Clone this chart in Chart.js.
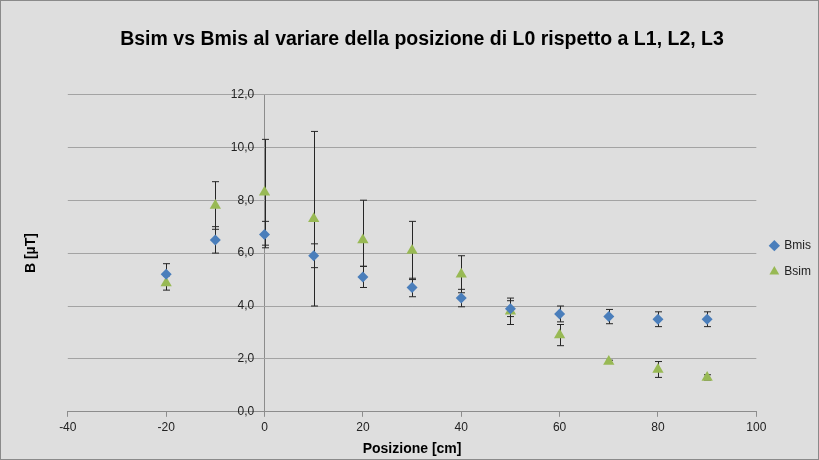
<!DOCTYPE html>
<html>
<head>
<meta charset="utf-8">
<script src="https://cdn.jsdelivr.net/npm/chart.js@4"></script>
<style>
  html, body { margin: 0; padding: 0; background: #dedede; }
  #wrap { width: 817px; height: 458px; border: 1px solid #8a8a8a; background: #dedede; }
</style>
</head>
<body>
<div id="wrap"><canvas id="myChart" width="817" height="458"></canvas></div>
<script>
// Positions (cm)
const positions = [-20, -10, 0, 10, 20, 30, 40, 50, 60, 70, 80, 90];

// Measured field (uT) and its error
const bmis = [5.2, 6.5, 6.7, 5.9, 5.1, 4.7, 4.3, 3.9, 3.7, 3.6, 3.5, 3.5];
const bmisErr = [0.4, 0.5, 0.5, 0.45, 0.4, 0.35, 0.33, 0.3, 0.3, 0.27, 0.28, 0.28];

// Simulated field (uT) and its error (plus / minus)
const bsim = [4.87, 7.8, 8.3, 7.3, 6.5, 6.1, 5.2, 3.8, 2.9, 1.9, 1.6, 1.3];
const bsimErrPlus = [0.27, 0.9, 2.0, 3.3, 1.5, 1.1, 0.7, 0.5, 0.4, 0.05, 0.3, 0.1];
const bsimErrMinus = [0.27, 0.9, 2.0, 3.3, 1.0, 1.1, 0.7, 0.5, 0.4, 0.05, 0.3, 0.1];

const xTicks = [-40, -20, 0, 20, 40, 60, 80, 100];
const yTicks = [0, 2, 4, 6, 8, 10, 12];

const FONT = "'Liberation Sans Narrow', 'Liberation Sans', sans-serif";

function toPoints(xs, ys) {
  return xs.map((x, i) => ({ x: x, y: ys[i] }));
}

// draws vertical error bars with caps
const errorBars = {
  id: "errorBars",
  beforeDatasetsDraw(chart) {
    const ctx = chart.ctx;
    const xs = chart.scales.x;
    const ys = chart.scales.y;
    const sets = [
      { plus: bmisErr, minus: bmisErr, vals: bmis },
      { plus: bsimErrPlus, minus: bsimErrMinus, vals: bsim },
    ];
    ctx.save();
    ctx.strokeStyle = "#262626";
    ctx.lineWidth = 1;
    sets.forEach((s) => {
      positions.forEach((p, i) => {
        const px = Math.round(xs.getPixelForValue(p)) + 0.5;
        const top = ys.getPixelForValue(s.vals[i] + s.plus[i]);
        const bot = ys.getPixelForValue(s.vals[i] - s.minus[i]);
        ctx.beginPath();
        ctx.moveTo(px, top);
        ctx.lineTo(px, bot);
        ctx.moveTo(px - 3.5, top);
        ctx.lineTo(px + 3.5, top);
        ctx.moveTo(px - 3.5, bot);
        ctx.lineTo(px + 3.5, bot);
        ctx.stroke();
      });
    });
    ctx.restore();
  },
};

const ctx = document.getElementById("myChart").getContext("2d");
new Chart(ctx, {
  type: "scatter",
  data: {
    datasets: [
      {
        label: "Bmis",
        data: toPoints(positions, bmis),
        pointStyle: "rectRot",
        pointRadius: 5.5,
        backgroundColor: "#4a7ebb",
        borderColor: "#4a7ebb",
        borderWidth: 0,
      },
      {
        label: "Bsim",
        data: toPoints(positions, bsim),
        pointStyle: "triangle",
        pointRadius: 6.5,
        backgroundColor: "#98b954",
        borderColor: "#98b954",
        borderWidth: 0,
      },
    ],
  },
  options: {
    responsive: false,
    animation: false,
    layout: { padding: { left: 22, right: -3, bottom: 1 } },
    plugins: {
      title: {
        display: true,
        text: "Bsim vs Bmis al variare della posizione di L0 rispetto a L1, L2, L3",
        color: "#000",
        font: { family: "'Liberation Sans', sans-serif", size: 19.5, weight: "bold" },
        padding: { top: 27, bottom: 43 },
      },
      legend: {
        position: "right",
        title: { display: true, text: " ", padding: 22, font: { size: 12 } },
        labels: {
          usePointStyle: true,
          boxWidth: 8,
          boxHeight: 8,
          padding: 14,
          color: "#222",
          font: { family: FONT, size: 12 },
        },
      },
      tooltip: { enabled: false },
    },
    scales: {
      x: {
        type: "linear",
        min: -40,
        max: 100,
        afterBuildTicks: (axis) => { axis.ticks = xTicks.map((v) => ({ value: v })); },
        // only the line at x = 0 is drawn on the chart area: it acts as the y axis line
        grid: {
          drawOnChartArea: true,
          drawTicks: true,
          tickLength: 5,
          color: (c) => (c.tick && c.tick.value === 0 ? "#8c8c8c" : "rgba(0,0,0,0)"),
          tickColor: "#8c8c8c",
        },
        border: { display: true, color: "#8c8c8c" },
        ticks: { color: "#222", font: { family: FONT, size: 12 }, padding: 4 },
        title: {
          display: true,
          text: "Posizione [cm]",
          color: "#000",
          font: { family: FONT, size: 14, weight: "bold" },
          padding: { top: 2, bottom: 0 },
        },
      },
      y: {
        type: "linear",
        position: { x: -2.1 },
        min: 0,
        max: 12,
        afterBuildTicks: (axis) => { axis.ticks = yTicks.map((v) => ({ value: v })); },
        grid: { color: "#a3a3a3", drawTicks: false },
        border: { display: false },
        ticks: {
          color: "#222",
          font: { family: FONT, size: 12 },
          callback: (v) => v.toFixed(1).replace(".", ","),
        },
      },
      yTitle: {
        type: "linear",
        position: "left",
        min: 0,
        max: 12,
        grid: { display: false },
        border: { display: false },
        ticks: { display: false },
        title: {
          display: true,
          text: "B [µT]",
          color: "#000",
          font: { family: FONT, size: 14, weight: "bold" },
          padding: { top: 0, bottom: 20 },
        },
      },
    },
  },
  plugins: [errorBars],
});
</script>
</body>
</html>
